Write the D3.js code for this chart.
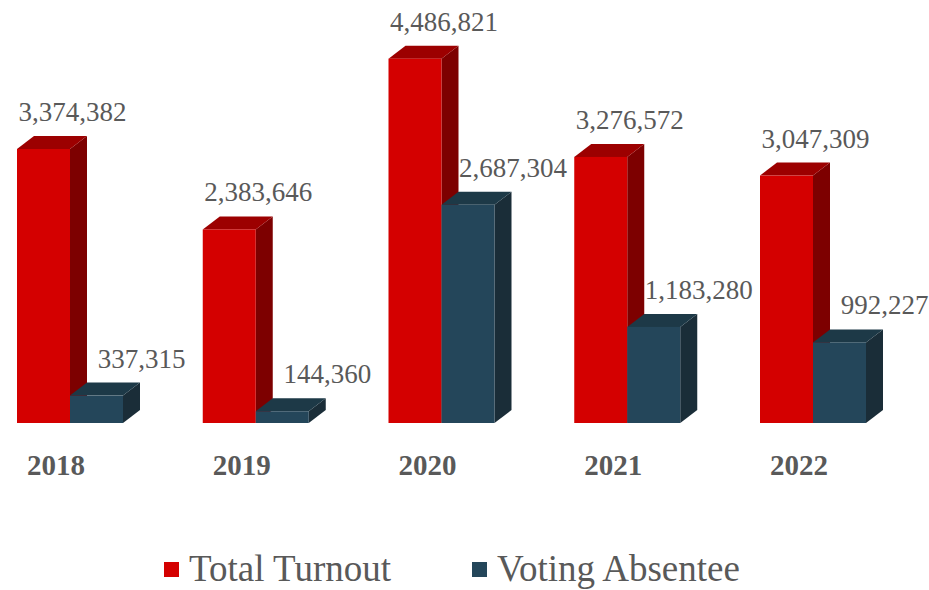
<!DOCTYPE html>
<html>
<head>
<meta charset="utf-8">
<script src="https://cdn.jsdelivr.net/npm/d3@7"></script>
<style>
  html, body { margin: 0; padding: 0; background: #ffffff; }
  svg { display: block; }
</style>
</head>
<body>
<svg id="chart" width="929" height="590"></svg>
<script>
// Election turnout by year
const years = ["2018", "2019", "2020", "2021", "2022"];
const totalTurnout = [3374382, 2383646, 4486821, 3276572, 3047309];
const votingAbsentee = [337315, 144360, 2687304, 1183280, 992227];
const seriesNames = ["Total Turnout", "Voting Absentee"];

const W = 929, H = 590;
const baseY = 423;          // floor of the bars (front edge)
const barW = 53;            // width of each bar's front face
const depthX = 17, depthY = 13; // 3D extrusion offset

const series = [
  { name: seriesNames[0], values: totalTurnout,
    front: "#d40000", side: "#7d0000", top: "#9c0000", labelDx: 12 },
  { name: seriesNames[1], values: votingAbsentee,
    front: "#24465a", side: "#1a2d38", top: "#1d3947", labelDx: 28 }
];

const svg = d3.select("#chart");
const serif = "'Liberation Serif', 'Times New Roman', Times, serif";

// group centres (the seam between the two bars of a year)
const x = d3.scalePoint().domain(years).range([70, 813]).padding(0);
const y = d3.scaleLinear().domain([0, 3374382]).range([baseY, 149]);

const fmt = d3.format(",");

series.forEach((s, si) => {
  years.forEach((yr, i) => {
    const v = s.values[i];
    const x0 = x(yr) + (si === 0 ? -barW : 0);
    const x1 = x0 + barW;
    const yt = y(v);
    const g = svg.append("g").attr("class", "bar");

    // side face
    g.append("polygon")
      .attr("points", [
        [x1, yt], [x1 + depthX, yt - depthY],
        [x1 + depthX, baseY - depthY], [x1, baseY]
      ].map(p => p.join(",")).join(" "))
      .attr("fill", s.side);

    // top face
    g.append("polygon")
      .attr("points", [
        [x0, yt], [x0 + depthX, yt - depthY],
        [x1 + depthX, yt - depthY], [x1, yt]
      ].map(p => p.join(",")).join(" "))
      .attr("fill", s.top);

    // front face
    g.append("rect")
      .attr("x", x0).attr("y", yt)
      .attr("width", barW).attr("height", baseY - yt)
      .attr("fill", s.front);

    // value label
    svg.append("text")
      .attr("x", x0 + barW / 2 + depthX + s.labelDx)
      .attr("y", yt - depthY - 15)
      .attr("text-anchor", "middle")
      .attr("font-family", serif)
      .attr("font-size", 27)
      .attr("fill", "#595959")
      .text(fmt(v));
  });
});

// category labels
svg.selectAll("text.cat")
  .data(years)
  .join("text")
  .attr("class", "cat")
  .attr("x", d => x(d) - 14)
  .attr("y", 475)
  .attr("text-anchor", "middle")
  .attr("font-family", serif)
  .attr("font-weight", "bold")
  .attr("font-size", 29)
  .attr("fill", "#595959")
  .text(d => d);

// legend
const legendX = [164, 472];
const legend = svg.selectAll("g.legend")
  .data(series)
  .join("g")
  .attr("class", "legend")
  .attr("transform", (d, i) => `translate(${legendX[i]},562)`);

legend.append("rect")
  .attr("width", 15).attr("height", 15)
  .attr("fill", d => d.front);

legend.append("text")
  .attr("x", 25)
  .attr("y", 19)
  .attr("font-family", serif)
  .attr("font-size", 37)
  .attr("fill", "#595959")
  .text(d => d.name);
</script>
</body>
</html>
